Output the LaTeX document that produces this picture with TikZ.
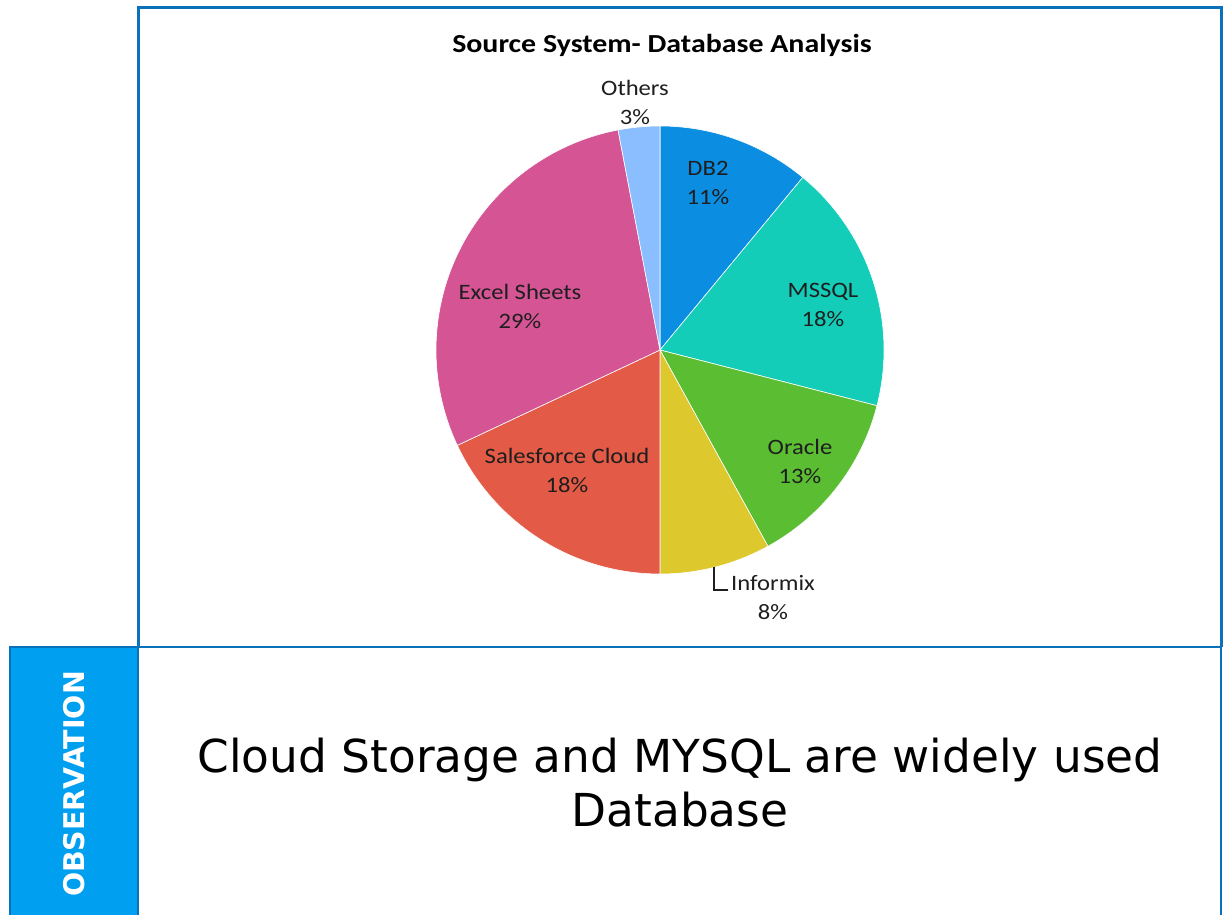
\documentclass[tikz,border=0pt]{standalone}
\usepackage{fontspec}
\setmainfont{DejaVu Sans}
\newfontfamily\chartfont[FakeStretch=1.12]{Carlito}
\newfontfamily\titlefont[FakeStretch=1.15]{Carlito}
\definecolor{frameblue}{HTML}{0A72BA}
\definecolor{labelblue}{HTML}{009FEF}
\definecolor{cDBtwo}{HTML}{0B8EE2}
\definecolor{cMSSQL}{HTML}{14CDB9}
\definecolor{cOracle}{HTML}{5BBE32}
\definecolor{cInformix}{HTML}{DDC82E}
\definecolor{cSales}{HTML}{E35A46}
\definecolor{cExcel}{HTML}{D45494}
\definecolor{cOthers}{HTML}{8ABEFF}
\definecolor{lbltext}{HTML}{1E1E1E}
\tikzset{
  slicestyle/.style={draw=white, line width=0.6pt},
  pielabel/.style={align=center, inner sep=0pt, text=lbltext, font=\chartfont\fontsize{22}{29}\selectfont},
  frameline/.style={draw=frameblue, line width=3pt},
  divline/.style={draw=frameblue, line width=2pt},
}
\begin{document}
\begin{tikzpicture}[x=1pt, y=1pt]
\useasboundingbox (0,0) rectangle (1230,914);
% frames
\draw[frameline] (138,267) -- (138,906) -- (1221,906) -- (1221,267);
\draw[divline] (138,267) -- (1221,267);
\draw[divline] (1221,267) -- (1221,-5);
\draw[divline] (138,267) -- (138,-5);
\fill[labelblue, draw=frameblue, line width=1.5pt] (10,-5) rectangle (138,267);
\node[rotate=90, text=white, font=\bfseries\fontsize{28.5}{30}\selectfont, inner sep=0pt] (obs) at (74,130) {OBSERVATION};
\node[align=center, inner sep=0pt, font=\fontsize{45.4}{54}\selectfont] (concl) at (680,131) {Cloud Storage and MYSQL are widely used\\Database};
% title
\node[anchor=base, inner sep=0pt, text=black, font=\titlefont\bfseries\fontsize{26}{30}\selectfont] (title) at (662,861) {Source System- Database Analysis};
% pie
\coordinate (pc) at (660,564);
\def\R{224}
\fill[cDBtwo, slicestyle] (pc) -- ++(90:\R) arc[start angle=90, end angle=50.4, radius=\R] -- cycle;
\fill[cMSSQL, slicestyle] (pc) -- ++(50.4:\R) arc[start angle=50.4, end angle=-14.4, radius=\R] -- cycle;
\fill[cOracle, slicestyle] (pc) -- ++(-14.4:\R) arc[start angle=-14.4, end angle=-61.2, radius=\R] -- cycle;
\fill[cInformix, slicestyle] (pc) -- ++(-61.2:\R) arc[start angle=-61.2, end angle=-90, radius=\R] -- cycle;
\fill[cSales, slicestyle] (pc) -- ++(-90:\R) arc[start angle=-90, end angle=-154.8, radius=\R] -- cycle;
\fill[cExcel, slicestyle] (pc) -- ++(-154.8:\R) arc[start angle=-154.8, end angle=-259.2, radius=\R] -- cycle;
\fill[cOthers, slicestyle] (pc) -- ++(100.8:\R) arc[start angle=100.8, end angle=90, radius=\R] -- cycle;
% labels
\node[pielabel] (lOthers) at (635,812) {Others\\3\%};
\node[pielabel] (lDB) at (708,731.5) {DB2\\11\%};
\node[pielabel] (lMS) at (823,609) {MSSQL\\18\%};
\node[pielabel] (lOr) at (800,452.5) {Oracle\\13\%};
\node[pielabel] (lInf) at (773,316.5) {Informix\\8\%};
\node[pielabel] (lSF) at (567,444) {Salesforce Cloud\\18\%};
\node[pielabel] (lEx) at (520,608) {Excel Sheets\\29\%};
% leader for Informix
\coordinate (infx) at (714,347);
\coordinate (infend) at (728,324);
\draw[draw=lbltext, line width=1.6pt] (infx) |- (infend);
\end{tikzpicture}
\end{document}
